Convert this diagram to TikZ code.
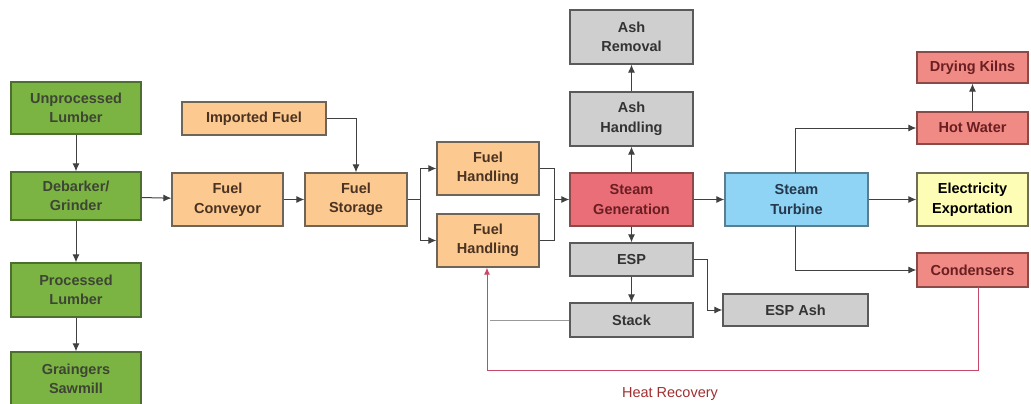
\documentclass[tikz,border=0pt]{standalone}
\usepackage{fontspec}
\setmainfont{Liberation Sans}
\usetikzlibrary{arrows.meta}
\definecolor{gfill}{HTML}{7BB443}
\definecolor{gdraw}{HTML}{4C6E2E}
\definecolor{ofill}{HTML}{FCC990}
\definecolor{odraw}{HTML}{6E6458}
\definecolor{grfill}{HTML}{CFCFCF}
\definecolor{grdraw}{HTML}{5A5A5A}
\definecolor{sgfill}{HTML}{EA6E78}
\definecolor{pfill}{HTML}{F08A84}
\definecolor{pdraw}{HTML}{8A4A48}
\definecolor{bfill}{HTML}{8FD3F5}
\definecolor{bdraw}{HTML}{5A7E90}
\definecolor{yfill}{HTML}{FDFDB6}
\definecolor{ydraw}{HTML}{6E6E58}
\definecolor{txt}{HTML}{333333}
\definecolor{gtxt}{HTML}{3E4535}
\definecolor{otxt}{HTML}{4A3322}
\definecolor{rtxt}{HTML}{6A1E22}
\definecolor{btxt}{HTML}{25374A}
\definecolor{linec}{HTML}{404040}
\definecolor{hrline}{HTML}{C8486A}
\definecolor{hrtext}{HTML}{A03030}
\begin{document}
\begin{tikzpicture}[x=1pt,y=-1pt,
  box/.style={draw, line width=1.3pt, align=center, inner sep=0pt,
    font=\fontsize{14.5}{19.5}\selectfont\bfseries, text=txt},
  greenbox/.style={box, fill=gfill, draw=gdraw, text=gtxt},
  orangebox/.style={box, fill=ofill, draw=odraw, text=otxt},
  graybox/.style={box, fill=grfill, draw=grdraw},
  sgbox/.style={box, fill=sgfill, draw=pdraw, text=rtxt},
  pinkbox/.style={box, fill=pfill, draw=pdraw, text=rtxt},
  bluebox/.style={box, fill=bfill, draw=bdraw, text=btxt},
  yellowbox/.style={box, fill=yfill, draw=ydraw, text=black},
  arr/.style={draw=linec, line width=1pt, -{Latex[length=8pt,width=7pt]}},
  ln/.style={draw=linec, line width=1pt},
  hr/.style={draw=hrline, line width=1pt},
]
\useasboundingbox (0,0) rectangle (1031,404);
% green column
\node[greenbox, minimum width=130pt, minimum height=52pt] (ul) at (76,108) {Unprocessed\\Lumber};
\node[greenbox, minimum width=130pt, minimum height=48pt] (dg) at (76,196) {Debarker/\\Grinder};
\node[greenbox, minimum width=130pt, minimum height=54pt] (pl) at (76,290) {Processed\\Lumber};
\node[greenbox, minimum width=130pt, minimum height=54pt] (gs) at (76,379) {Graingers\\Sawmill};
% fuel
\node[orangebox, minimum width=144pt, minimum height=33pt] (if) at (254,118.5) {Imported Fuel};
\node[orangebox, minimum width=111pt, minimum height=53pt] (fc) at (227.5,199.5) {Fuel\\Conveyor};
\node[orangebox, minimum width=102pt, minimum height=53pt] (fs) at (356,199.5) {Fuel\\Storage};
\node[orangebox, minimum width=102pt, minimum height=53pt] (fh1) at (488,168.5) {Fuel\\Handling};
\node[orangebox, minimum width=102pt, minimum height=53pt] (fh2) at (488,240.5) {Fuel\\Handling};
% steam generation column
\node[graybox, minimum width=123pt, minimum height=54pt] (ar) at (631.5,37) {Ash\\Removal};
\node[graybox, minimum width=123pt, minimum height=54pt] (ah) at (631.5,119) {Ash\\Handling};
\node[sgbox, minimum width=123pt, minimum height=53pt] (sg) at (631.5,199.5) {Steam\\Generation};
\node[graybox, minimum width=123pt, minimum height=33pt] (esp) at (631.5,259.5) {ESP};
\node[graybox, minimum width=123pt, minimum height=34pt] (stack) at (631.5,320) {Stack};
\node[graybox, minimum width=145pt, minimum height=32pt] (espash) at (795.5,310) {ESP Ash};
% turbine and outputs
\node[bluebox, minimum width=143pt, minimum height=53pt] (st) at (796.5,199.5) {Steam\\Turbine};
\node[pinkbox, minimum width=111pt, minimum height=31pt] (dk) at (972.5,67.5) {Drying Kilns};
\node[pinkbox, minimum width=111pt, minimum height=32pt] (hw) at (972.5,128) {Hot Water};
\node[yellowbox, minimum width=111pt, minimum height=53pt] (ee) at (972.5,199.5) {Electricity\\Exportation};
\node[pinkbox, minimum width=111pt, minimum height=34pt] (cd) at (972.5,270) {Condensers};
\node[font=\fontsize{14.5}{17}\selectfont, text=hrtext] (hrl) at (670,394) {Heat Recovery};
% connectors
\draw[arr] (ul) -- (dg);
\draw[arr] (dg) -- (pl);
\draw[arr] (pl) -- (gs);
\draw[arr] (dg) -- (fc);
\draw[arr] (fc) -- (fs);
\draw[arr] (if.east) -| (fs.north);
\coordinate (s1) at (420,199.5);
\draw[ln] (fs.east) -- (s1);
\draw[arr] (s1) |- (fh1.west);
\draw[arr] (s1) |- (fh2.west);
\coordinate (j1) at (554,199.5);
\draw[ln] (fh1.east) -| (j1);
\draw[ln] (fh2.east) -| (j1);
\draw[arr] (j1) -- (sg.west);
\draw[arr] (sg) -- (ah);
\draw[arr] (ah) -- (ar);
\draw[arr] (sg) -- (esp);
\draw[arr] (esp) -- (stack);
\coordinate (e1) at (707,259.5);
\draw[arr] (esp.east) -- (e1) |- (espash.west);
\draw[arr] (sg) -- (st);
\coordinate (t1) at (795,173);
\coordinate (t2) at (795,226);
\draw[arr] (t1) |- (hw.west);
\draw[arr] (t2) |- (cd.west);
\draw[arr] (st) -- (ee);
\draw[arr] (hw) -- (dk);
\coordinate (k1) at (490,320);
\draw[draw=gray!80, line width=1pt] (stack.west) -- (k1);
\coordinate (c1) at (978,287);
\coordinate (h1) at (978,370);
\coordinate (h2) at (487,370);
\draw[hr, -{Latex[length=7pt,width=6pt]}] (c1) -- (h1) -- (h2) -- (fh2.south -| h2);
\end{tikzpicture}
\end{document}
